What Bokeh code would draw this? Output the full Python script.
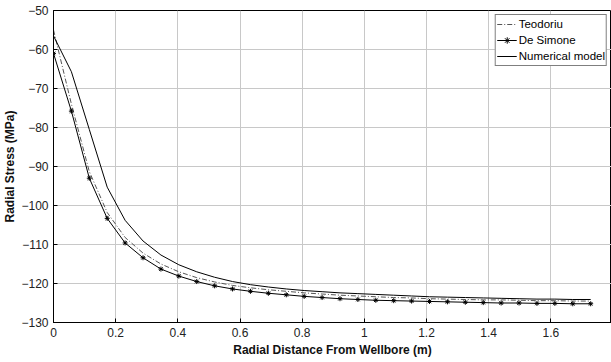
from bokeh.plotting import figure
from bokeh.models import Range1d, FixedTicker
from bokeh.embed import file_html
from bokeh.resources import INLINE

# Radial distance (m)
r = [0.0, 0.0576, 0.1152, 0.1728, 0.2304, 0.288, 0.3456, 0.4032, 0.4608, 0.5184,
     0.576, 0.6336, 0.6912, 0.7488, 0.8064, 0.864, 0.9216, 0.9792, 1.0368, 1.0944,
     1.152, 1.2096, 1.2672, 1.3248, 1.3824, 1.44, 1.4976, 1.5552, 1.6128, 1.6704, 1.728]

teodoriu = [-55.0, -74.0, -91.3, -101.8, -108.2, -112.2, -115.0, -117.0, -118.5, -119.6,
            -120.5, -121.1, -121.6, -122.0, -122.4, -122.7, -123.0, -123.2, -123.4, -123.6,
            -123.7, -123.9, -124.0, -124.1, -124.2, -124.2, -124.3, -124.4, -124.4, -124.5, -124.5]

de_simone = [-61.0, -75.8, -93.0, -103.3, -109.6, -113.4, -116.3, -118.1, -119.5, -120.6,
             -121.4, -122.0, -122.5, -122.9, -123.3, -123.6, -123.9, -124.1, -124.3, -124.4,
             -124.5, -124.6, -124.7, -124.8, -124.9, -125.0, -125.0, -125.1, -125.1, -125.2, -125.2]

numerical = [-56.5, -65.7, -80.5, -95.3, -103.8, -109.1, -112.7, -115.2, -117.0, -118.4,
             -119.5, -120.3, -120.9, -121.4, -121.8, -122.1, -122.4, -122.6, -122.8, -123.0,
             -123.2, -123.4, -123.5, -123.6, -123.7, -123.8, -123.9, -124.0, -124.0, -124.1, -124.1]

x_ticks = [0, 0.2, 0.4, 0.6, 0.8, 1.0, 1.2, 1.4, 1.6, 1.8]
y_ticks = [-130, -120, -110, -100, -90, -80, -70, -60, -50]

p = figure(width=611, height=362, output_backend="svg", toolbar_location=None,
           x_range=Range1d(0, 1.795), y_range=Range1d(-130, -50),
           min_border_left=50, min_border_right=0, min_border_top=10, min_border_bottom=40)

p.background_fill_color = "white"
p.outline_line_color = "black"
p.outline_line_width = 1

FONT = "Liberation Sans"
for ax in (p.xaxis[0], p.yaxis[0]):
    ax.major_label_text_font = FONT
    ax.major_label_text_font_size = "12px"
    ax.major_label_text_color = "#222222"
    ax.axis_label_text_font = FONT
    ax.axis_label_text_font_size = "12px"
    ax.axis_label_text_font_style = "bold"
    ax.axis_label_text_color = "#111111"
    ax.major_tick_in = 4
    ax.major_tick_out = 0
    ax.minor_tick_in = 0
    ax.minor_tick_out = 0
    ax.axis_line_color = "black"
    ax.major_tick_line_color = "black"

p.xaxis[0].ticker = FixedTicker(ticks=x_ticks)
p.yaxis[0].ticker = FixedTicker(ticks=y_ticks)
p.xaxis[0].axis_label = "Radial Distance From Wellbore (m)"
p.yaxis[0].axis_label = "Radial Stress (MPa)"
p.xaxis[0].major_label_standoff = 5
p.xaxis[0].axis_label_standoff = 3
p.yaxis[0].major_label_standoff = 5
p.yaxis[0].axis_label_standoff = 1

p.grid.grid_line_color = "#c8c8c8"
p.grid.grid_line_width = 1

p.line(r, teodoriu, line_color="#555555", line_width=1, line_dash="5 2 1 2",
       legend_label="Teodoriu")
p.line(r, de_simone, line_color="black", line_width=1, legend_label="De Simone")
p.scatter(r, de_simone, marker="asterisk", size=5, line_color="black", line_width=1,
          legend_label="De Simone")
p.line(r, numerical, line_color="black", line_width=1, legend_label="Numerical model")

lg = p.legend[0]
lg.location = "top_right"
lg.margin = 4
lg.padding = 1
lg.spacing = 0
lg.glyph_width = 20
lg.glyph_height = 16
lg.label_height = 16
lg.label_standoff = 2
lg.label_text_font = FONT
lg.label_text_font_size = "11.5px"
lg.label_text_color = "black"
lg.border_line_color = "black"
lg.border_line_width = 1
lg.background_fill_color = "white"
lg.background_fill_alpha = 1

open("out.html", "w").write(file_html(p, INLINE))
